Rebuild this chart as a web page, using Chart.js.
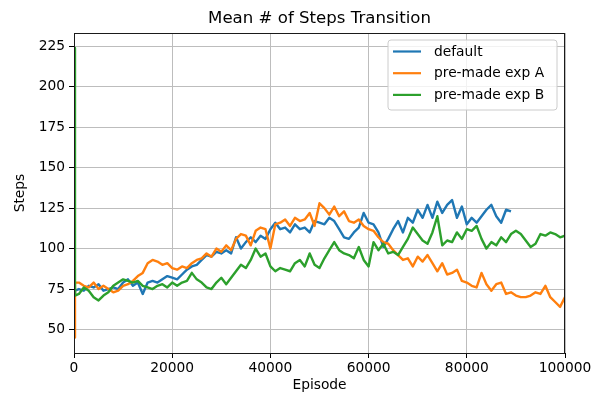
<!DOCTYPE html>
<html>
<head>
<meta charset="utf-8">
<title>Mean # of Steps Transition</title>
<script src="https://cdn.jsdelivr.net/npm/chart.js@4.4.1/dist/chart.umd.min.js"></script>
<style>
  html, body { margin: 0; padding: 0; background: #fff; }
  #wrap { width: 596px; height: 399px; }
</style>
</head>
<body>
<div id="wrap"><canvas id="stepsChart" width="596" height="399"></canvas></div>
<script>
// values (moving average of steps per episode)
const episodes = [0, 200,
  1000, 2000, 3000, 4000, 5000, 6000, 7000, 8000, 9000, 10000,
  11000, 12000, 13000, 14000, 15000, 16000, 17000, 18000, 19000, 20000,
  21000, 22000, 23000, 24000, 25000, 26000, 27000, 28000, 29000, 30000,
  31000, 32000, 33000, 34000, 35000, 36000, 37000, 38000, 39000, 40000,
  41000, 42000, 43000, 44000, 45000, 46000, 47000, 48000, 49000, 50000,
  51000, 52000, 53000, 54000, 55000, 56000, 57000, 58000, 59000, 60000,
  61000, 62000, 63000, 64000, 65000, 66000, 67000, 68000, 69000, 70000,
  71000, 72000, 73000, 74000, 75000, 76000, 77000, 78000, 79000, 80000,
  81000, 82000, 83000, 84000, 85000, 86000, 87000, 88000, 89000, 90000,
  91000, 92000, 93000, 94000, 95000, 96000, 97000, 98000, 99000, 100000];

const defaultSteps = [72, 74,
  75, 74, 77, 76, 78, 74, 75, 76, 75, 79,
  81, 77, 79, 72, 79, 80, 79, 81, 83, 82,
  81, 84, 87, 89, 90, 93, 96, 95, 98, 97,
  99, 97, 107, 100, 104, 107, 104, 108, 106, 112,
  116, 112, 113, 110, 115, 112, 113, 110, 117, 116,
  115, 119, 117, 112, 107, 106, 110, 113, 122, 116,
  115, 110, 101, 106, 112, 117, 110, 119, 116, 124,
  119, 127, 119, 129, 122, 127, 130, 119, 126, 115,
  119, 116, 120, 124, 127, 120, 116, 124, 123, null,
  null, null, null, null, null, null, null, null, null, null];

const expASteps = [45, 79,
  79, 77, 76, 79, 75, 77, 75, 73, 74, 77,
  78, 80, 83, 85, 91, 93, 92, 90, 91, 88,
  87, 89, 88, 91, 93, 94, 97, 95, 100, 98,
  102, 99, 106, 109, 108, 102, 111, 113, 112, 100,
  115, 116, 118, 114, 119, 117, 118, 122, 114, 128,
  125, 121, 126, 120, 123, 117, 116, 118, 114, 112,
  111, 107, 104, 103, 99, 96, 93, 94, 89, 95,
  92, 96, 91, 86, 91, 84, 85, 87, 80, 79,
  77, 76, 85, 78, 74, 78, 79, 72, 73, 71,
  70, 70, 71, 73, 72, 77, 70, 67, 64, 70];

const expBSteps = [224, 71,
  72, 76, 74, 70, 68, 71, 73, 77, 79, 81,
  80, 79, 80, 77, 76, 75, 77, 78, 76, 79,
  77, 79, 80, 85, 81, 79, 76, 75, 79, 82,
  78, 82, 86, 90, 88, 93, 100, 95, 97, 89,
  86, 88, 87, 86, 91, 93, 89, 97, 90, 88,
  94, 99, 104, 99, 97, 96, 94, 101, 93, 89,
  104, 99, 103, 97, 98, 96, 101, 106, 113, 109,
  105, 103, 110, 120, 102, 105, 104, 110, 106, 112,
  111, 114, 106, 100, 104, 102, 107, 104, 109, 111,
  109, 105, 101, 103, 109, 108, 110, 109, 107, 108];

const seriesNames = ['default', 'pre-made exp A', 'pre-made exp B'];
const seriesColors = ['#1f77b4', '#ff7f0e', '#2ca02c'];
const xTicks = [0, 20000, 40000, 60000, 80000, 100000];
const yTicks = [50, 75, 100, 125, 150, 175, 200, 225];

const FONT = "'DejaVu Sans', 'Liberation Sans', sans-serif";
Chart.defaults.font.family = FONT;
Chart.defaults.color = '#000';

const toPoints = (ys) => episodes.map((x, i) => ({x: x, y: ys[i]})).filter(p => p.y !== null);

// title, 4-sided frame and legend box, drawn like matplotlib does them
const mplPlugin = {
  id: 'mpl',
  afterDatasetsDraw(chart) {
    const ctx = chart.ctx;
    const a = chart.chartArea;
    ctx.save();

    // spines
    ctx.strokeStyle = '#1a1a1a';
    ctx.lineWidth = 1;
    ctx.strokeRect(a.left + 0.5, a.top + 0.5, a.right - a.left - 1, a.bottom - a.top);

    // title
    ctx.fillStyle = '#000';
    ctx.font = '16.6px ' + FONT;
    ctx.textAlign = 'center';
    ctx.textBaseline = 'alphabetic';
    ctx.fillText('Mean # of Steps Transition', (a.left + a.right) / 2, 23);

    // legend
    const bx = 388, by = 40, bw = 169, bh = 70, r = 3;
    ctx.beginPath();
    ctx.moveTo(bx + r, by);
    ctx.arcTo(bx + bw, by, bx + bw, by + bh, r);
    ctx.arcTo(bx + bw, by + bh, bx, by + bh, r);
    ctx.arcTo(bx, by + bh, bx, by, r);
    ctx.arcTo(bx, by, bx + bw, by, r);
    ctx.closePath();
    ctx.fillStyle = 'rgba(255,255,255,0.8)';
    ctx.fill();
    ctx.strokeStyle = '#cccccc';
    ctx.lineWidth = 1;
    ctx.stroke();

    ctx.font = '13.8px ' + FONT;
    ctx.textAlign = 'left';
    ctx.textBaseline = 'middle';
    chart.data.datasets.forEach((ds, i) => {
      const rowY = 51.5 + i * 21.7;
      ctx.strokeStyle = ds.borderColor;
      ctx.lineWidth = 2.2;
      ctx.beginPath();
      ctx.moveTo(393, rowY);
      ctx.lineTo(421, rowY);
      ctx.stroke();
      ctx.fillStyle = '#000';
      ctx.fillText(ds.label, 434, rowY + 0.5);
    });
    ctx.restore();
  }
};

const stepsChart = new Chart(document.getElementById('stepsChart'), {
  type: 'line',
  data: {
    datasets: [
      { label: seriesNames[0], data: toPoints(defaultSteps), borderColor: seriesColors[0], order: 2 },
      { label: seriesNames[1], data: toPoints(expASteps), borderColor: seriesColors[1], order: 1 },
      { label: seriesNames[2], data: toPoints(expBSteps), borderColor: seriesColors[2], order: 0 }
    ]
  },
  options: {
    responsive: false,
    animation: false,
    devicePixelRatio: 1,
    layout: { padding: { top: 33, right: 31, left: 0, bottom: 0 } },
    elements: {
      line: { borderWidth: 2.4, tension: 0, fill: false, borderJoinStyle: 'round' },
      point: { radius: 0, hoverRadius: 0 }
    },
    plugins: {
      legend: { display: false },
      title: { display: false },
      tooltip: { enabled: false }
    },
    scales: {
      x: {
        type: 'linear',
        min: 0,
        max: 100000,
        afterBuildTicks: (scale) => { scale.ticks = xTicks.map(v => ({ value: v })); },
        afterFit: (scale) => { scale.height = 46; },
        ticks: {
          font: { size: 13.8 },
          color: '#000',
          padding: 2,
          maxRotation: 0,
          callback: (v) => String(v)
        },
        grid: { color: '#bdbdbd', lineWidth: 1, tickLength: 5, tickColor: '#000', tickWidth: 1 },
        border: { display: false },
        title: { display: true, text: 'Episode', font: { size: 13.8 }, color: '#000', padding: { top: 0, bottom: 5 } }
      },
      y: {
        min: 35.5,
        max: 233.2,
        afterBuildTicks: (scale) => { scale.ticks = yTicks.map(v => ({ value: v })); },
        afterFit: (scale) => { scale.width = 74; },
        ticks: {
          font: { size: 13.8 },
          color: '#000',
          padding: 4,
          callback: (v) => String(v)
        },
        grid: { color: '#bdbdbd', lineWidth: 1, tickLength: 5, tickColor: '#000', tickWidth: 1 },
        border: { display: false },
        title: { display: true, text: 'Steps', font: { size: 13.8 }, color: '#000', padding: { top: 12, bottom: 0 } }
      }
    }
  },
  plugins: [mplPlugin]
});
</script>
</body>
</html>
